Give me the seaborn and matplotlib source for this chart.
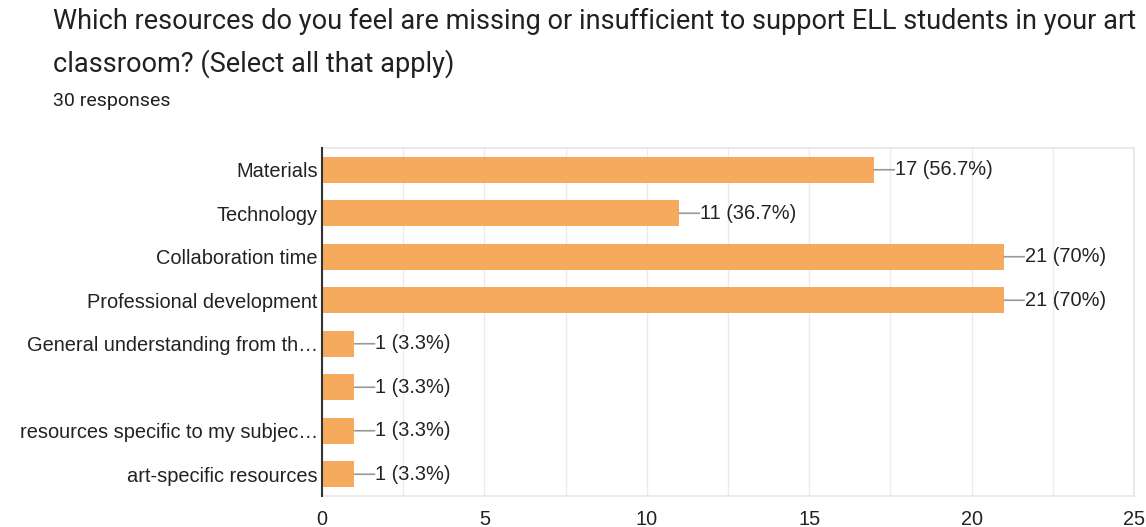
import matplotlib
matplotlib.use("Agg")
import matplotlib.pyplot as plt
import seaborn as sns
import pandas as pd
from matplotlib.ticker import MultipleLocator

categories = ["Materials", "Technology", "Collaboration time", "Professional development",
              "General understanding from th\u2026", " ", "resources specific to my subjec\u2026",
              "art-specific resources"]
counts = [17, 11, 21, 21, 1, 1, 1, 1]
labels = ["17 (56.7%)", "11 (36.7%)", "21 (70%)", "21 (70%)",
          "1 (3.3%)", "1 (3.3%)", "1 (3.3%)", "1 (3.3%)"]
xticks = [0, 5, 10, 15, 20, 25]

title = "Which resources do you feel are missing or insufficient to support ELL students in your art\nclassroom? (Select all that apply)"
subtitle = "30 responses"

sns.set_theme(style="white")
plt.rcParams['font.family'] = ['Liberation Sans', 'DejaVu Sans']

df = pd.DataFrame({"cat": categories, "n": counts})
fig = plt.figure(figsize=(11.46, 5.27), dpi=100)
ax = fig.add_axes([322/1146, 1-496/527, (1134-322)/1146, (496-148)/527])
sns.barplot(data=df, x="n", y="cat", order=categories, orient="h",
            color="#F6AA5E", saturation=1, width=0.6, ax=ax, zorder=3)
for p in ax.patches:
    p.set_edgecolor("none")
ax.set_xlim(0, 25)
ax.set_ylim(7.5, -0.5)
ax.set_xticks(xticks)
ax.xaxis.set_minor_locator(MultipleLocator(2.5))
ax.grid(True, axis="x", which="both", color="#EBEBEB", linewidth=1, zorder=0)
ax.set_axisbelow(True)
ax.set_xlabel("")
ax.set_ylabel("")
ax.tick_params(axis="x", labelsize=14.3, colors="#222222", pad=10, length=0, which="both")
ax.tick_params(axis="y", labelsize=14.4, colors="#222222", pad=3, length=0)
for s in ["top", "right", "bottom"]:
    ax.spines[s].set_color("#E6E6E6")
    ax.spines[s].set_linewidth(1.2)
ax.spines["left"].set_color("#333333")
ax.spines["left"].set_linewidth(1.5)
ax.spines["left"].set_zorder(5)

for i, (v, lab) in enumerate(zip(counts, labels)):
    ax.annotate("", xy=(v, i), xytext=(v + 0.62, i),
                arrowprops=dict(arrowstyle="-", color="#999999", lw=1.2, shrinkA=0, shrinkB=0))
    ax.text(v + 0.64, i, lab, va="center", ha="left", fontsize=14.4, color="#222222")

fig.text(53/1146, 1-8/527, title, ha="left", va="top", fontsize=19.5,
         color="#202124", linespacing=1.64, family=["Roboto", "DejaVu Sans"])
fig.text(53/1146, 1-101/527, subtitle, ha="left", va="center", fontsize=14,
         color="#202124", family=["Roboto", "DejaVu Sans"])

fig.savefig("out.png", dpi=100)
